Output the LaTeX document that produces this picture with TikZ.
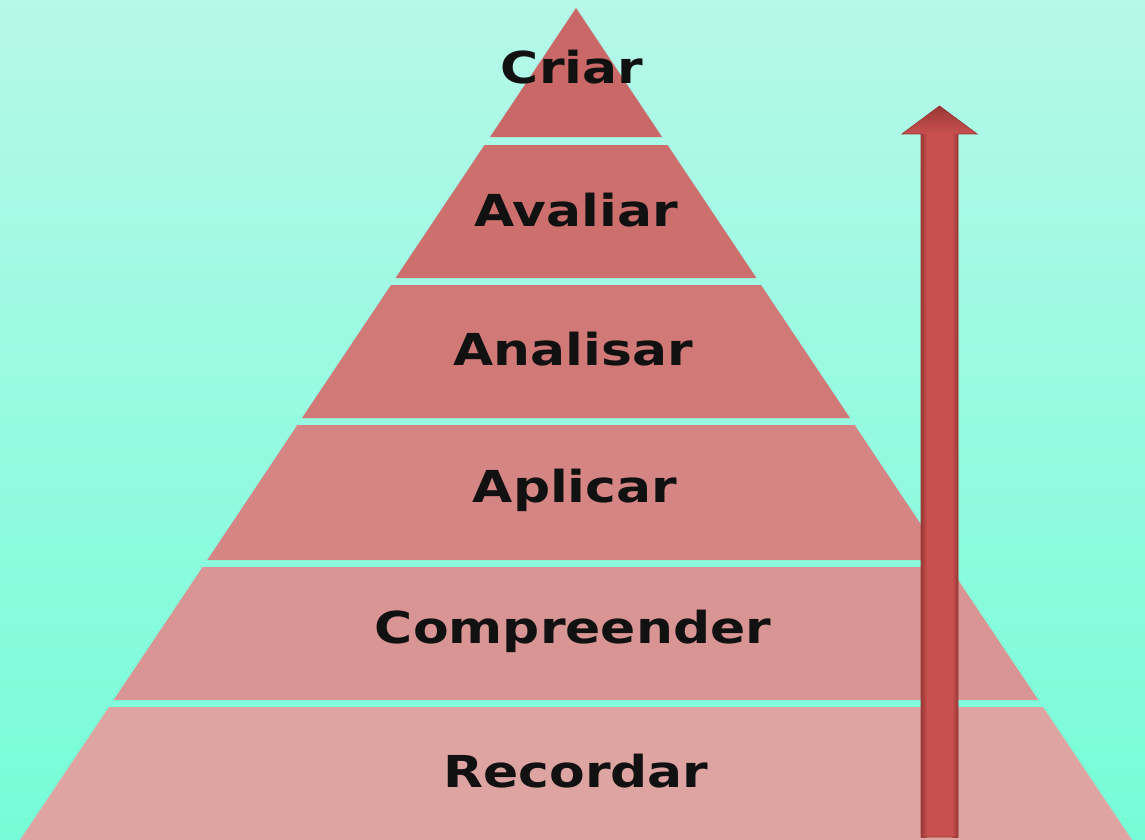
\documentclass[tikz,border=0pt]{standalone}
\usepackage{fontspec}
\setmainfont{DejaVu Sans}
\newfontfamily\lblfont[FakeStretch=1.18]{DejaVu Sans}
\definecolor{bgtop}{HTML}{B6F8EA}
\definecolor{bgbot}{HTML}{76FCD8}
\definecolor{b1}{HTML}{C96866}
\definecolor{b2}{HTML}{CC6F6D}
\definecolor{b3}{HTML}{D17977}
\definecolor{b4}{HTML}{D58684}
\definecolor{b5}{HTML}{D99593}
\definecolor{b6}{HTML}{DEA4A2}
\definecolor{arrowfill}{HTML}{C8504E}
\definecolor{arrowedge}{HTML}{9A3836}
\definecolor{txt}{HTML}{111111}
\tikzset{
  band/.style={draw=none},
  lbl/.style={font=\lblfont\bfseries\fontsize{44}{48}\selectfont, text=txt, inner sep=0pt, anchor=center},
}
\begin{document}
\begin{tikzpicture}[x=1pt,y=-1pt]
\useasboundingbox (0,0) rectangle (1145,840);
\shade[top color=bgtop, bottom color=bgbot] (0,0) rectangle (1145,840);
% bands
\fill[band, b1] (576,8) -- (662,137) -- (490,137) -- cycle;
\fill[band, b2] (484.5,145) -- (667.5,145) -- (756.4,278) -- (395.6,278) -- cycle;
\fill[band, b3] (391,285) -- (761,285) -- (850,418) -- (302,418) -- cycle;
\fill[band, b4] (297.4,425) -- (854.6,425) -- (944.7,560) -- (207.3,560) -- cycle;
\fill[band, b5] (202.6,567) -- (949.4,567) -- (1038.3,700) -- (113.7,700) -- cycle;
\fill[band, b6] (109,707) -- (1043,707) -- (1132,840) -- (20,840) -- cycle;
% labels
\node[lbl] (criar) at (572,67) {Criar};
\node[lbl] (avaliar) at (576,210) {Avaliar};
\node[lbl] (analisar) at (573,349) {Analisar};
\node[lbl] (aplicar) at (575,490) {Aplicar};
\node[lbl] (compreender) at (573,631) {Compreender};
\node[lbl] (recordar) at (576,771) {Recordar};
% arrow
\fill[arrowfill] (921,837) rectangle (958,133);
\shade[left color=arrowedge, right color=arrowfill] (921,837) rectangle (927,133);
\shade[left color=arrowfill, right color=arrowedge] (952,837) rectangle (958,133);
\shade[top color=arrowedge, bottom color=arrowfill]
  (902,134) -- (939.5,106) -- (977,134) -- cycle;
\draw[arrowedge, line width=0.8pt, line join=miter]
  (921,837) -- (921,134) -- (902,134) -- (939.5,106) -- (977,134) -- (958,134) -- (958,837) -- cycle;
\end{tikzpicture}
\end{document}
